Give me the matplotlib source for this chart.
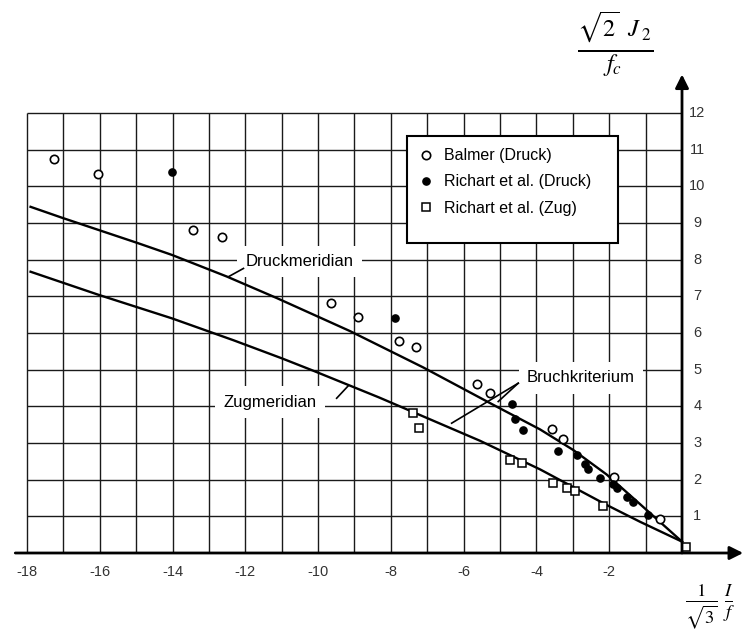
import numpy as np
import matplotlib
matplotlib.use("Agg")
import matplotlib.pyplot as plt
from matplotlib.patches import Rectangle

plt.rcParams['font.family'] = ['Liberation Sans', 'DejaVu Sans']
plt.rcParams['mathtext.fontset'] = 'stix'

# data
balmer_x = [-17.25, -16.06, -13.43, -12.65, -9.65, -8.89, -7.77, -7.31, -5.64, -5.27, -3.58, -3.28, -1.86, -0.60]
balmer_y = [10.74, 10.34, 8.81, 8.63, 6.83, 6.43, 5.78, 5.63, 4.61, 4.35, 3.38, 3.12, 2.06, 0.92]

richart_d_x = [-14.02, -7.88, -4.68, -4.60, -4.37, -3.42, -2.88, -2.66, -2.57, -2.25, -1.89, -1.78, -1.52, -1.34, -0.93]
richart_d_y = [10.40, 6.40, 4.05, 3.66, 3.35, 2.78, 2.67, 2.42, 2.28, 2.04, 1.88, 1.76, 1.54, 1.40, 1.04]

richart_z_x = [-7.38, -7.24, -4.73, -4.40, -3.54, -3.15, -2.94, -2.16, 0.10]
richart_z_y = [3.81, 3.40, 2.54, 2.46, 1.90, 1.76, 1.70, 1.28, 0.15]

druck_x = [-17.9, -17.0, -14.98, -14.02, -12.51, -11.13, -9.12, -7.11, -5.09, -3.90, -2.99, -2.07, -1.15, 0.0]
druck_y = [9.44, 9.13, 8.46, 8.13, 7.54, 6.95, 6.05, 5.06, 3.99, 3.37, 2.81, 2.14, 1.33, 0.31]

zug_x = [-17.9, -16.03, -14.02, -12.32, -11.0, -10.13, -8.32, -5.55, -3.90, -2.07, -1.15, 0.0]
zug_y = [7.67, 7.04, 6.40, 5.80, 5.31, 4.97, 4.24, 3.06, 2.28, 1.31, 0.85, 0.31]

x_ticks = [-18, -16, -14, -12, -10, -8, -6, -4, -2]
y_ticks = list(range(1, 13))

fig = plt.figure(figsize=(7.43, 6.31), dpi=100)
ax = fig.add_axes([0, 0, 1, 1])
ax.set_xlim(-18.74, 1.676)
ax.set_ylim(-2.127, 15.08)
ax.axis('off')

# grid
ax.vlines(np.arange(-18, 0), 0, 12, color='#1a1a1a', lw=1.0, zorder=1)
ax.hlines(np.arange(1, 13), -18, 0, color='#1a1a1a', lw=1.0, zorder=1)

# axes with arrows
arrow = dict(arrowstyle='-|>', lw=2, color='k', mutation_scale=20, shrinkA=0, shrinkB=0)
ax.annotate('', xy=(1.68, 0), xytext=(-18.32, 0), arrowprops=arrow, zorder=6)
ax.annotate('', xy=(0, 13.05), xytext=(0, 0), arrowprops=arrow, zorder=6)

for t in x_ticks:
    ax.text(t, -0.51, str(t), ha='center', va='center', fontsize=10.5, color='#333333')
for t in y_ticks:
    ax.text(0.42, t, str(t), ha='center', va='center', fontsize=10.5, color='#333333')

# meridians
ax.plot(druck_x, druck_y, color='k', lw=1.7, zorder=3)
ax.plot(zug_x, zug_y, color='k', lw=1.7, zorder=3)

# measurements
h1, = ax.plot(balmer_x, balmer_y, 'o', mfc='white', mec='k', ms=6, mew=1.2, ls='none', zorder=5,
              label='Balmer (Druck)')
h2, = ax.plot(richart_d_x, richart_d_y, 'o', color='k', ms=5.2, ls='none', zorder=5,
              label='Richart et al. (Druck)')
h3, = ax.plot(richart_z_x, richart_z_y, 's', mfc='white', mec='k', ms=5.6, mew=1.1, ls='none', zorder=5,
              label='Richart et al. (Zug)')

# labels
box = dict(facecolor='white', edgecolor='none', pad=6)
ax.text(-12.0, 7.95, 'Druckmeridian', fontsize=12, ha='left', va='center', bbox=box, zorder=2)
ax.plot([-12.47, -12.05], [7.53, 7.76], color='k', lw=1.2, zorder=3)

ax.text(-12.6, 4.11, 'Zugmeridian', fontsize=12, ha='left', va='center', bbox=box, zorder=2)
ax.plot([-9.49, -9.17], [4.22, 4.56], color='k', lw=1.2, zorder=3)

ax.text(-4.26, 4.78, 'Bruchkriterium', fontsize=12, ha='left', va='center', bbox=box, zorder=2)
ax.plot([-6.33, -4.50], [3.54, 4.63], color='k', lw=1.2, zorder=3)
ax.plot([-5.05, -4.50], [4.13, 4.63], color='k', lw=1.2, zorder=3)

# legend box
ax.add_patch(Rectangle((-7.55, 8.45), 5.8, 2.92, facecolor='white', edgecolor='k', lw=1.5, zorder=4))
ax.legend(handles=[h1, h2, h3], loc='upper left', bbox_to_anchor=(-7.25, 11.04),
          bbox_transform=ax.transData, frameon=False, borderpad=0, borderaxespad=0,
          handlelength=1, handletextpad=0.6, labelspacing=0.7, fontsize=11.5, numpoints=1)

# axis titles
ax.text(-1.84, 13.88, r'$\frac{\sqrt{2}\;\;J_{\;2}}{f_{c}}$', fontsize=25, ha='center', va='center')
ax.text(0.78, -1.47, r'$\frac{1}{\sqrt{3}}\;\frac{I}{f}$', fontsize=19, ha='center', va='center')

fig.savefig('out.png', dpi=100)
